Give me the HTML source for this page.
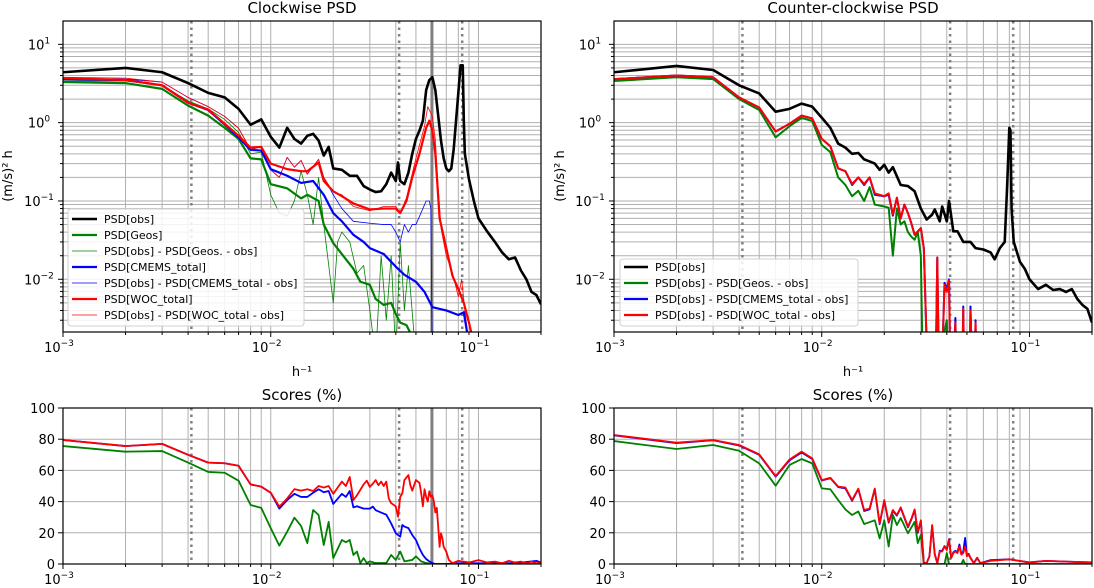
<!DOCTYPE html>
<html><head><meta charset="utf-8"><style>
html,body{margin:0;padding:0;background:#fff;}
svg{display:block;font-family:"DejaVu Sans","Liberation Sans",sans-serif;}
</style></head><body>
<svg id="fig" width="1094" height="588" viewBox="0 0 1094 588" xmlns="http://www.w3.org/2000/svg"></svg>
<script>
// ---------- data (frequencies in 1e-3 h^-1) ----------
const cwObsF=[1,2,3,4,5,6,7,8,9,10,11,12,13,14,15,16,17,18,19,20,22,24,26,28,30,32,34,36,38,40,41,42,44,46,48,50,52,54,56,58,60,62,64,66,68,70,72,74,76,78,80,82,84,85,86,90,95,100,110,120,130,140,150,160,170,180,190,200];
const cwObsV=[4.4,5.0,4.4,3.2,2.4,2.1,1.5,0.94,1.1,0.66,0.48,0.86,0.62,0.54,0.68,0.72,0.59,0.38,0.49,0.26,0.25,0.21,0.21,0.155,0.14,0.13,0.133,0.164,0.23,0.18,0.31,0.18,0.164,0.23,0.40,0.62,0.79,1.06,2.6,3.5,3.8,2.6,1.23,0.59,0.35,0.26,0.24,0.26,0.46,1.06,2.4,5.4,5.4,1.06,0.40,0.19,0.1,0.06,0.041,0.030,0.022,0.018,0.019,0.013,0.010,0.0069,0.0063,0.0048];
const cwGeosF=[1,2,3,4,5,6,7,8,9,10,12,14,15,17,18,20,22,25,27,30,32,35,38,40,42,45,50];
const cwGeosV=[3.3,3.2,2.7,1.65,1.23,0.86,0.62,0.35,0.34,0.164,0.145,0.108,0.12,0.1,0.05,0.029,0.021,0.0136,0.0093,0.0085,0.0056,0.0047,0.005,0.0036,0.0028,0.0026,0.0015];
const cwGeosDiffF=[1,2,3,4,5,6,7,8,9,10,11,12,13,14,15,16,17,18,20,21,22,24,26,28,30,32,34,36,38,40,42,44,46,50];
const cwGeosDiffV=[3.4,3.4,3.0,1.9,1.5,1.1,0.75,0.4,0.42,0.12,0.07,0.064,0.1,0.24,0.12,0.05,0.2,0.05,0.005,0.03,0.04,0.03,0.012,0.015,0.004,0.001,0.02,0.003,0.02,0.001,0.03,0.004,0.015,0.001];
const cwCmemsF=[1,2,3,4,5,6,7,8,9,10,12,14,16,18,20,22,25,28,30,35,40,44,50,55,60,70,80,85,90];
const cwCmemsV=[3.6,3.5,3.0,1.8,1.45,0.95,0.65,0.45,0.44,0.255,0.21,0.17,0.18,0.12,0.07,0.055,0.037,0.030,0.025,0.021,0.0145,0.0114,0.0093,0.0069,0.0044,0.004,0.0035,0.0038,0.0015];
const cwCmemsDiffF=[1,2,3,4,5,6,7,8,9,10,11,12,13,14,15,17,18,20,22,25,30,35,38,40,42,44,46,48,50,54,56,58,59,60];
const cwCmemsDiffV=[3.7,3.6,3.3,2.1,1.6,1.2,0.85,0.45,0.5,0.25,0.2,0.36,0.27,0.33,0.22,0.34,0.2,0.12,0.08,0.055,0.052,0.05,0.05,0.04,0.03,0.05,0.04,0.05,0.05,0.08,0.1,0.1,0.08,0.0005];
const cwWocF=[1,2,3,4,5,6,7,8,9,10,12,14,15,17,18,20,22,25,30,35,40,42,45,48,52,56,58,60,62,65,70,75,80,85,90,95];
const cwWocV=[3.7,3.5,3.0,1.8,1.47,0.97,0.68,0.48,0.49,0.30,0.255,0.24,0.24,0.31,0.18,0.133,0.115,0.093,0.078,0.08,0.08,0.07,0.1,0.2,0.40,0.86,1.06,0.79,0.40,0.06,0.025,0.011,0.0075,0.005,0.0028,0.0015];
const cwWocDiffF=[1,2,3,4,5,6,7,8,9,10,11,12,13,14,15,17,18,20,22,25,30,35,40,42,45,50,55,57,60,62,64,66,70,75,80,83,86,90];
const cwWocDiffV=[3.8,3.7,3.3,2.1,1.6,1.2,0.85,0.45,0.5,0.25,0.2,0.36,0.27,0.33,0.22,0.34,0.2,0.13,0.12,0.085,0.075,0.085,0.085,0.07,0.11,0.35,0.9,1.6,1.2,0.6,0.15,0.045,0.02,0.012,0.006,0.01,0.004,0.0015];

const ccwObsF=[1,2,3,4,5,6,7,8,9,10,11,12,13,14,15,16,17,18,19,20,21,22,24,26,28,30,32,34,35,37,38,40,41,43,45,48,52,55,60,65,68,72,76,78,80,81,82,84,90,95,100,110,120,130,140,150,160,170,180,190,200];
const ccwObsV=[4.4,5.3,4.7,3.0,2.36,1.38,1.5,1.75,1.6,1.16,0.86,0.54,0.48,0.40,0.41,0.34,0.32,0.30,0.25,0.29,0.23,0.27,0.16,0.155,0.133,0.08,0.058,0.067,0.078,0.055,0.085,0.055,0.1,0.041,0.041,0.03,0.03,0.025,0.024,0.022,0.018,0.025,0.030,0.145,0.86,0.8,0.08,0.03,0.0167,0.0136,0.01,0.0075,0.0085,0.0073,0.0075,0.0069,0.0075,0.0056,0.0047,0.0042,0.0028];
const ccwGeosF=[1,2,3,4,5,6,7,8,9,10,11,12,13,14,15,16,17,18,20,21,22,23,24,25,26,27,28,29,30,31,40,41];
const ccwGeosV=[3.4,3.8,3.6,2.0,1.45,0.65,0.9,1.15,1.05,0.52,0.42,0.2,0.16,0.115,0.135,0.1,0.15,0.09,0.085,0.082,0.02,0.08,0.05,0.055,0.04,0.035,0.032,0.04,0.02,0.0001,0.003,0.0001];
const ccwCmemsF=[1,2,3,4,5,6,7,8,9,10,11,12,13,14,15,16,17,18,20,21,22,23,24,25,26,27,28,30,31,33,35,36,37,39,40,41,42,44,45,47,48,49,51,52,54,55,56];
const ccwCmemsV=[3.6,4.0,3.8,2.1,1.56,0.77,0.97,1.23,1.13,0.62,0.5,0.26,0.24,0.16,0.2,0.16,0.2,0.12,0.115,0.12,0.065,0.11,0.06,0.09,0.07,0.052,0.037,0.045,0.025,0.0001,0.0001,0.019,0.0001,0.009,0.0075,0.01,0.0001,0.0032,0.0001,0.0001,0.0045,0.0001,0.0001,0.0045,0.0001,0.003,0.0001];
const ccwWocF=[1,2,3,4,5,6,7,8,9,10,11,12,13,14,15,16,17,18,20,21,22,23,24,25,26,27,28,30,31,33,35,36,37,39,40,41,42,44,45,47,48,49,51,52,54,55,56];
const ccwWocV=[3.6,4.0,3.8,2.1,1.56,0.77,0.97,1.23,1.13,0.62,0.5,0.26,0.24,0.165,0.2,0.165,0.2,0.125,0.115,0.125,0.067,0.11,0.06,0.09,0.07,0.052,0.037,0.045,0.025,0.0001,0.0001,0.019,0.0001,0.0085,0.0069,0.0098,0.0001,0.0028,0.0001,0.0001,0.0042,0.0001,0.0001,0.004,0.0001,0.0028,0.0001];

const scCwWocF=[1,2,3,4,5,6,7,8,9,10,11,12,13,14,15,16,17,18,19,20,22,23,24,25,26,28,29,30,31,32,33,34,35,36,37,38,39,40,41,42,43,44,46,47,48,50,52,53,54,55,56,57,58,59,60,61,62,63,64,65,66,67,68,70,72,75,80,90,100,110,120,130,140,150,160,170,180,190,200];
const scCwWocV=[79.5,75.6,77,70,65,64.6,63,51,49.6,45.7,36.8,42,48,47,47.9,46.8,50,49,50,45,52.8,50,55.8,41,44,51,53.4,49.4,51.5,53.8,50.5,52.8,50,52.8,42,39,38,36.8,30.3,43,45.4,53.8,57,50.5,47,53.8,52,45.4,37,47.9,43,40,46.6,43,44,40,33,36,24,11,19.7,16.7,11,7.9,2.6,0.5,2,1,2.5,1,1.5,0.5,2,1,1.5,0.5,1.5,0.5,1];
const scCwCmemsF=[1,2,3,4,5,6,7,8,9,10,11,12,13,14,15,16,17,18,19,20,22,23,24,25,26,28,30,31,32,34,36,38,40,42,43,44,46,48,50,52,54,56,58,60,62,70,80,100,150,190,200];
const scCwCmemsV=[79.5,75.6,77,70,65,64.6,63,51,49.6,45.7,35.5,41,45,43,43,45.7,47.9,46,46.8,38.5,45,43,46.8,36.3,37,35.5,35.5,36.8,34.5,33,31.6,26,19.7,17.5,25,24,23,18.6,15.4,10,5.8,3.2,1.7,0.6,0,0,0.5,0.5,0.5,2,1];
const scCwGeosF=[1,2,3,4,5,6,7,8,9,10,11,12,13,14,15,16,17,18,19,20,22,23,24,25,26,27,28,29,30,32,36,38,40,42,44,48,50,53,56,60,200];
const scCwGeosV=[75.6,72,72.4,65,59,58.5,53.4,37.8,36,23,11.8,20.7,29.7,24.4,13.4,34.6,31.4,12.2,27,3.8,15.4,14,15.4,5.8,8,0.6,3.8,0.6,1.7,0.6,0.6,5.8,2.6,8,1.7,2.6,4.9,1.7,0.6,0,0];

const scCcwWocF=[1,2,3,4,5,6,7,8,9,10,11,12,13,14,15,16,17,18,19,20,21,22,23,24,25,26,27,28,29,30,31,32,33,34,35,36,37,38,39,40,41,42,43,44,45,46,47,48,49,50,51,52,54,56,58,65,80,100,120,150,200];
const scCcwWocV=[82.7,77.8,79.5,76.3,70.3,56.4,67,72,67.7,53.8,55.3,49.6,49,41,48.3,34.6,35.5,48.3,26,41,27,34.6,31.4,36.3,30,24,29,35,20.7,28,0.6,0.6,4.9,25,6,0.6,8,8,11.2,9,15.4,3.8,7,8,7,11.2,6,7,11.2,5,6,3.8,0.6,3.8,0.6,2,3,1,2,1.5,1];
const scCcwCmemsF=[1,2,3,4,5,6,7,8,9,10,11,12,13,14,15,16,17,18,19,20,21,22,23,24,25,26,27,28,29,30,31,32,33,34,35,36,37,38,39,40,41,42,43,44,45,46,47,48,49,50,51,52,54,56,58,65,80,100,120,150,200];
const scCcwCmemsV=[82.5,77.5,79.3,76,70,56,66.5,71.5,67.3,53.5,55,49.3,48.5,40.5,48,34,35,48,25.5,40.5,26.5,34,31,36,29.5,23.5,28.5,34.5,20,27.5,0.6,0.6,5,24.5,6.5,0.6,8.5,8.5,11.5,9.5,15.8,4,7.5,8.5,7.5,12.5,6.5,8,16.7,5.5,6.5,4,0.6,4,0.6,2.5,3,1,2,1.5,1];
const scCcwGeosF=[1,2,3,4,5,6,7,8,9,10,11,12,13,14,15,16,18,19,20,21,22,23,24,26,28,29,30,31,39,40,41,47,48,49,200];
const scCcwGeosV=[78.8,73.7,76.3,72.6,64.5,50.2,63.5,67.3,64.5,48.5,47.9,41,35,31.4,33.7,25.6,28,16.4,28,11.2,31.4,25,29.5,19.7,27,13.4,18.6,0,0,7,0,0,2.6,0,0];

const xTickExps=[-3,-2,-1];
const yTickExps=[-2,-1,0,1];
const scoreTicks=[0,20,40,60,80,100];
const dottedFreqs=[0.00415,0.0415,0.0835];
const solidFreqs=[0.0597];
const cwLegendLabels=["PSD[obs]","PSD[Geos]","PSD[obs] - PSD[Geos. - obs]","PSD[CMEMS_total]","PSD[obs] - PSD[CMEMS_total - obs]","PSD[WOC_total]","PSD[obs] - PSD[WOC_total - obs]"];
const ccwLegendLabels=["PSD[obs]","PSD[obs] - PSD[Geos. - obs]","PSD[obs] - PSD[CMEMS_total - obs]","PSD[obs] - PSD[WOC_total - obs]"];

// ---------- drawing ----------
const NS="http://www.w3.org/2000/svg";
const svg=document.getElementById('fig');
function el(tag,attrs,parent){const e=document.createElementNS(NS,tag);for(const k in attrs)e.setAttribute(k,attrs[k]);(parent||svg).appendChild(e);return e;}
const XMIN=-3, XMAX=Math.log10(0.2);
const YMIN=-2.673, YMAX=1.298;
function panel(x0,x1,y0,y1,log,name){
  const p={x0,x1,y0,y1,log,name};
  p.sx=f=>x0+(Math.log10(f)-XMIN)/(XMAX-XMIN)*(x1-x0);
  p.sy=log? v=>y1-(Math.log10(Math.max(v,1e-6))-YMIN)/(YMAX-YMIN)*(y1-y0) : v=>y1-v/100*(y1-y0);
  return p;
}
const P=[panel(63,541,21,332,true,'cw-psd'),panel(614,1092,21,332,true,'ccw-psd'),panel(63,541,408,564,false,'cw-scores'),panel(614,1092,408,564,false,'ccw-scores')];
P.forEach((p,i)=>{
  const cp=el('clipPath',{id:'c'+i});
  el('rect',{x:p.x0,y:p.y0,width:p.x1-p.x0,height:p.y1-p.y0},cp);
});
function drawGrid(p){
  const g=el('g',{});
  
  
  for(let e=-3;e<=-1;e++)for(let m=1;m<=9;m++){const f=m*Math.pow(10,e);if(f>0.2)continue;const x=p.sx(f);
    el('line',{x1:x,x2:x,y1:p.y0,y2:p.y1,stroke:'#b0b0b0','stroke-width':1},g);}
  if(p.log){for(let e=-3;e<=1;e++)for(let m=1;m<=9;m++){const v=m*Math.pow(10,e);const lv=Math.log10(v);if(lv<YMIN||lv>YMAX)continue;const y=p.sy(v);
    el('line',{x1:p.x0,x2:p.x1,y1:y,y2:y,stroke:'#b0b0b0','stroke-width':1},g);}}
  else scoreTicks.forEach(t=>{const y=p.sy(t);el('line',{x1:p.x0,x2:p.x1,y1:y,y2:y,stroke:'#b0b0b0','stroke-width':1},g);});
}
function drawVLines(p,withSolid){
  const g=el('g',{'clip-path':'url(#c'+P.indexOf(p)+')'});
  
  
  dottedFreqs.forEach(f=>{const x=p.sx(f);el('line',{x1:x,x2:x,y1:p.y0,y2:p.y1,stroke:'#808080','stroke-width':2.5,'stroke-dasharray':'2.5,4'},g);});
  if(withSolid)solidFreqs.forEach(f=>{const x=p.sx(f);el('line',{x1:x,x2:x,y1:p.y0,y2:p.y1,stroke:'#808080','stroke-width':3},g);});
}
function series(p,F,V,color,w,name){
  const d=F.map((f,i)=>(i?'L':'M')+p.sx(f/1000).toFixed(2)+','+p.sy(V[i]).toFixed(2)).join('');
  const path=el('path',{d:d,fill:'none',stroke:color,'stroke-width':w,'stroke-linejoin':'round','clip-path':'url(#c'+P.indexOf(p)+')'});
  
  
}
function tickLabelPow(x,y,exp,anchor,name){
  const t=el('text',{x:x,y:y,'font-size':13,'text-anchor':anchor,fill:'#000'});
  
  
  const a=el('tspan',{},t);a.textContent='10';
  const b=el('tspan',{dy:-6,'font-size':9},t);b.textContent=(exp<0?'\u2212':'')+Math.abs(exp);
}
function drawAxes(p){
  const g=el('g',{});
  
  
  el('rect',{x:p.x0,y:p.y0,width:p.x1-p.x0,height:p.y1-p.y0,fill:'none',stroke:'#000','stroke-width':1.2},g);
  for(let e=-3;e<=-1;e++)for(let m=1;m<=9;m++){const f=m*Math.pow(10,e);if(f>0.2)continue;const x=p.sx(f);
    el('line',{x1:x,x2:x,y1:p.y1,y2:p.y1+(m===1?5:3),stroke:'#000','stroke-width':1},g);}
  xTickExps.forEach(e=>tickLabelPow(p.sx(Math.pow(10,e))-4,p.y1+20,e,'middle','x-tick-label'));
  if(p.log){
    for(let e=-3;e<=1;e++)for(let m=1;m<=9;m++){const v=m*Math.pow(10,e);const lv=Math.log10(v);if(lv<YMIN||lv>YMAX)continue;const y=p.sy(v);
      el('line',{x1:p.x0-(m===1?5:3),x2:p.x0,y1:y,y2:y,stroke:'#000','stroke-width':1},g);}
    yTickExps.forEach(e=>tickLabelPow(p.x0-24,p.sy(Math.pow(10,e))+5,e,'middle','y-tick-label'));
  } else {
    scoreTicks.forEach(t=>{const y=p.sy(t);el('line',{x1:p.x0-5,x2:p.x0,y1:y,y2:y,stroke:'#000','stroke-width':1},g);
      const tx=el('text',{x:p.x0-8,y:y+5,'font-size':13,'text-anchor':'end'},g);tx.textContent=t;
      
      });
  }
}
function text(x,y,s,size,name,rot){
  const t=el('text',{x:x,y:y,'font-size':size,'text-anchor':'middle',fill:'#000'});
  if(rot)t.setAttribute('transform','rotate(-90 '+x+' '+y+')');
  t.textContent=s;
  
  
}
function legend(x,y,w,h,labels,colors,widths,name,tx,lx0,lx1,firstY){
  const g=el('g',{});
  
  
  el('rect',{x:x,y:y,width:w,height:h,rx:3,fill:'#fff','fill-opacity':0.85,stroke:'#d0d0d0'},g);
  labels.forEach((l,i)=>{const yy=firstY+i*16;
    const ln=el('line',{x1:lx0,x2:lx1,y1:yy,y2:yy,stroke:colors[i],'stroke-width':widths[i]},g);
    
    
    const t=el('text',{x:tx,y:yy+4,'font-size':11},g);t.textContent=l;
    
    });
}

P.forEach((p,i)=>{drawGrid(p);drawVLines(p,i%2===0);});
// CW PSD
series(P[0],cwGeosDiffF,cwGeosDiffV,'#008000',0.8,'cw-geos-diff-line');
series(P[0],cwCmemsDiffF,cwCmemsDiffV,'#0000ff',0.8,'cw-cmems-diff-line');
series(P[0],cwWocDiffF,cwWocDiffV,'#ff0000',0.8,'cw-woc-diff-line');
series(P[0],cwGeosF,cwGeosV,'#008000',2.2,'cw-geos-line');
series(P[0],cwCmemsF,cwCmemsV,'#0000ff',2.2,'cw-cmems-line');
series(P[0],cwWocF,cwWocV,'#ff0000',2.2,'cw-woc-line');
series(P[0],cwObsF,cwObsV,'#000000',2.6,'cw-obs-line');
// CCW PSD
series(P[1],ccwGeosF,ccwGeosV,'#008000',2,'ccw-geos-diff-line');
series(P[1],ccwCmemsF,ccwCmemsV,'#0000ff',2,'ccw-cmems-diff-line');
series(P[1],ccwWocF,ccwWocV,'#ff0000',2,'ccw-woc-diff-line');
series(P[1],ccwObsF,ccwObsV,'#000000',2.6,'ccw-obs-line');
// Scores
series(P[2],scCwGeosF,scCwGeosV,'#008000',1.8,'cw-geos-score-line');
series(P[2],scCwCmemsF,scCwCmemsV,'#0000ff',1.8,'cw-cmems-score-line');
series(P[2],scCwWocF,scCwWocV,'#ff0000',1.8,'cw-woc-score-line');
series(P[3],scCcwGeosF,scCcwGeosV,'#008000',1.8,'ccw-geos-score-line');
series(P[3],scCcwCmemsF,scCcwCmemsV,'#0000ff',1.8,'ccw-cmems-score-line');
series(P[3],scCcwWocF,scCcwWocV,'#ff0000',1.8,'ccw-woc-score-line');
P.forEach(drawAxes);

text(302,13,'Clockwise PSD',15,'cw-title');
text(853,13,'Counter-clockwise PSD',15,'ccw-title');
text(302,400,'Scores (%)',15,'cw-scores-title');
text(853,400,'Scores (%)',15,'ccw-scores-title');
text(302,376,'h\u207B\u00B9',13,'cw-x-axis-title');
text(853,376,'h\u207B\u00B9',13,'ccw-x-axis-title');
text(12,176,'(m/s)\u00B2 h',13,'cw-y-axis-title',true);
text(564,176,'(m/s)\u00B2 h',13,'ccw-y-axis-title',true);

legend(68,209,236,117,cwLegendLabels,['#000','#008000','#008000','#0000ff','#0000ff','#ff0000','#ff0000'],[2.6,2.2,0.8,2.2,0.8,2.2,0.8],'cw-legend',104,72,97,219);
legend(620,259,238,67,ccwLegendLabels,['#000','#008000','#0000ff','#ff0000'],[2.4,2.2,2.2,2.2],'ccw-legend',655,624,648,267);
</script>
</body></html>
